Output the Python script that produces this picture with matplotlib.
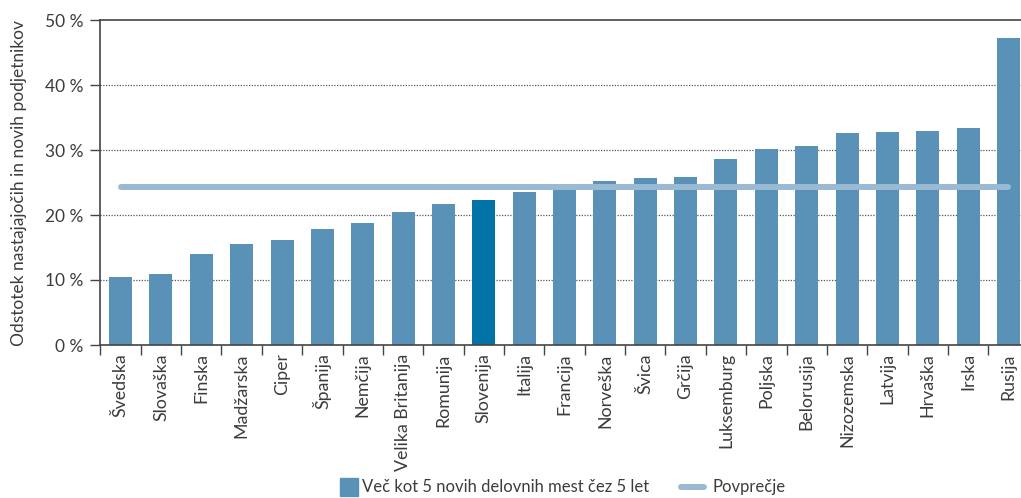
import matplotlib
matplotlib.use("Agg")
import matplotlib.pyplot as plt
from matplotlib.patches import Rectangle
from matplotlib.lines import Line2D

countries = ["Švedska", "Slovaška", "Finska", "Madžarska", "Ciper", "Španija",
             "Nemčija", "Velika Britanija", "Romunija", "Slovenija", "Italija",
             "Francija", "Norveška", "Švica", "Grčija", "Luksemburg", "Poljska",
             "Belorusija", "Nizozemska", "Latvija", "Hrvaška", "Irska", "Rusija"]
values = [10.5, 10.9, 14.0, 15.5, 16.2, 17.8, 18.8, 20.5, 21.7, 22.3, 23.5,
          24.5, 25.2, 25.7, 25.8, 28.6, 30.2, 30.6, 32.6, 32.8, 32.9, 33.4, 47.2]
average = 24.3
highlight = "Slovenija"
bar_label = "Več kot 5 novih delovnih mest čez 5 let"
avg_label = "Povprečje"

plt.rcParams["font.family"] = ["Lato", "DejaVu Sans"]
plt.rcParams["font.weight"] = "normal"

bar_col = "#5a91b6"
hl_col = "#0273a6"
avg_col = "#9ab9d2"
txt_col = "#3c3c3c"

W, H = 1021, 498
fig = plt.figure(figsize=(W / 100, H / 100), dpi=100)
ax = fig.add_axes([100 / W, 1 - 345 / H, 921 / W, 325 / H])

x = list(range(len(countries)))
colors = [hl_col if c == highlight else bar_col for c in countries]
ax.bar(x, values, width=0.57, color=colors, zorder=2)
ax.plot([x[0], x[-1]], [average, average], color=avg_col, lw=4.3,
        solid_capstyle="round", zorder=3)

ax.set_xlim(-0.51, len(countries) - 0.69)
ax.set_ylim(0, 50)
ax.set_yticks(range(0, 51, 10))
ax.set_yticklabels([f"{v} %" for v in range(0, 51, 10)])
for v in range(10, 50, 10):
    ax.axhline(v, color="#555555", lw=0.9, ls=(0, (1, 1.2)), zorder=1)

ax.set_xticks(x)
ax.set_xticklabels(countries, rotation=90, va="top", ha="center")
ax.set_xticks([i + 0.5 for i in range(-1, len(countries) - 1)], minor=True)
ax.tick_params(axis="x", which="major", length=0, pad=6, labelsize=12.8,
               labelcolor=txt_col)
ax.tick_params(axis="x", which="minor", length=7, width=1, color="#444444",
               direction="out")
ax.tick_params(axis="y", length=7, width=1, color="#444444", labelsize=12.5,
               labelcolor=txt_col, pad=5)

for s in ["left", "bottom", "top"]:
    ax.spines[s].set_color("#444444")
    ax.spines[s].set_linewidth(1.2)
ax.spines["right"].set_visible(False)

ax.set_ylabel("Odstotek nastajajočih in novih podjetnikov", fontsize=12.5,
              color=txt_col, labelpad=13)

# legend drawn by hand below the labels
ly = 1 - 487 / H
fig.patches.append(Rectangle((340 / W, 1 - 496 / H), 18 / W, 18 / H,
                             transform=fig.transFigure, color=bar_col))
fig.text(362 / W, ly, bar_label, va="center", ha="left", fontsize=12,
         color=txt_col)
fig.lines.append(Line2D([681 / W, 704 / W], [ly, ly], transform=fig.transFigure,
                        color=avg_col, lw=4.3, solid_capstyle="round"))
fig.text(712 / W, ly, avg_label, va="center", ha="left", fontsize=12,
         color=txt_col)

fig.savefig("out.png", dpi=100)
